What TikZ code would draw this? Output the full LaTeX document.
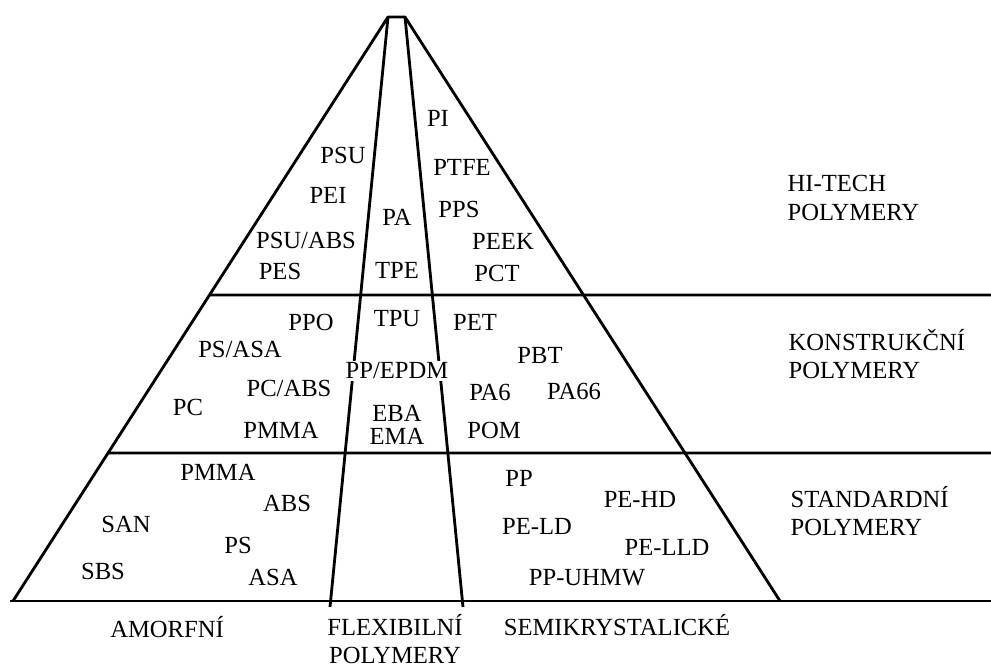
\documentclass[tikz,border=0pt]{standalone}
\usepackage{fontspec}
\setmainfont{Liberation Serif}
\usepackage{tikz}
\usetikzlibrary{positioning, calc}

\tikzset{
    edge/.style={line width=2pt, line join=round},
    lbl/.style={font=\fontsize{17.5}{20}\selectfont, inner sep=1pt},
    lvl/.style={lbl, align=left, anchor=west},
}

\begin{document}
\begin{tikzpicture}[x=0.025cm, y=-0.025cm]

    \useasboundingbox (0, 0) rectangle (991, 664);

    % Pyramid corners
    \coordinate (topL) at (388, 17);
    \coordinate (topR) at (405, 17);
    \coordinate (botL) at (13, 601);
    \coordinate (botR) at (780, 601);
    \coordinate (inL) at (330, 607);
    \coordinate (inR) at (463, 607);

    % Outline
    \draw[edge] (botL) -- (topL) -- (topR) -- (botR);
    \draw[edge] (topL) -- (inL);
    \draw[edge] (topR) -- (inR);

    % Level separators
    \draw[edge] ($(topL)!278/584!(botL)$) -- (991, 295);
    \draw[edge] ($(topL)!436/584!(botL)$) -- (991, 453);
    \draw[edge] (10, 601) -- (991, 601);

    % Hi-tech level
    \node[lbl] (pi) at (438, 118) {PI};
    \node[lbl] (psu) at (343, 155) {PSU};
    \node[lbl] (ptfe) at (462, 167) {PTFE};
    \node[lbl] (pei) at (328, 195) {PEI};
    \node[lbl] (pps) at (459, 209) {PPS};
    \node[lbl] (pa) at (397, 217) {PA};
    \node[lbl] (psuabs) at (306, 240) {PSU/ABS};
    \node[lbl] (peek) at (503, 241) {PEEK};
    \node[lbl] (pes) at (280, 271) {PES};
    \node[lbl] (tpe) at (397, 270) {TPE};
    \node[lbl] (pct) at (497, 273) {PCT};
    \node[lvl] (hitech) at (786, 198) {HI-TECH\\POLYMERY};

    % Construction level
    \node[lbl] (ppo) at (311, 322) {PPO};
    \node[lbl] (tpu) at (397, 319) {TPU};
    \node[lbl] (pet) at (475, 322) {PET};
    \node[lbl] (psasa) at (240, 349) {PS/ASA};
    \node[lbl] (pbt) at (540, 355) {PBT};
    \node[lbl, fill=white] (ppepdm) at (397, 371) {PP/EPDM};
    \node[lbl] (pcabs) at (289, 388) {PC/ABS};
    \node[lbl] (pa6) at (490, 392) {PA6};
    \node[lbl] (pa66) at (574, 391) {PA66};
    \node[lbl] (pc) at (188, 407) {PC};
    \node[lbl] (pmmaA) at (281, 430) {PMMA};
    \node[lbl, align=center, font=\fontsize{17.5}{16}\selectfont] (ebaema) at (397, 425) {EBA\\EMA};
    \node[lbl] (pom) at (494, 430) {POM};
    \node[lvl] (konstr) at (787, 354) {KONSTRUKČNÍ\\POLYMERY};

    % Standard level
    \node[lbl] (pmmaB) at (218, 472) {PMMA};
    \node[lbl] (pp) at (519, 478) {PP};
    \node[lbl] (abs) at (287, 503) {ABS};
    \node[lbl] (pehd) at (640, 499) {PE-HD};
    \node[lbl] (san) at (126, 524) {SAN};
    \node[lbl] (peld) at (537, 526) {PE-LD};
    \node[lbl] (ps) at (238, 545) {PS};
    \node[lbl] (pelld) at (667, 547) {PE-LLD};
    \node[lbl] (sbs) at (103, 571) {SBS};
    \node[lbl] (asa) at (273, 577) {ASA};
    \node[lbl] (ppuhmw) at (587, 578) {PP-UHMW};
    \node[lvl] (standard) at (789, 511) {STANDARDNÍ\\POLYMERY};

    % Groups under the base
    \node[lbl] (amorf) at (167, 627) {AMORFNÍ};
    \node[lbl, align=center] (flex) at (395, 639) {FLEXIBILNÍ\\POLYMERY};
    \node[lbl] (semi) at (617, 625) {SEMIKRYSTALICKÉ};

\end{tikzpicture}
\end{document}
